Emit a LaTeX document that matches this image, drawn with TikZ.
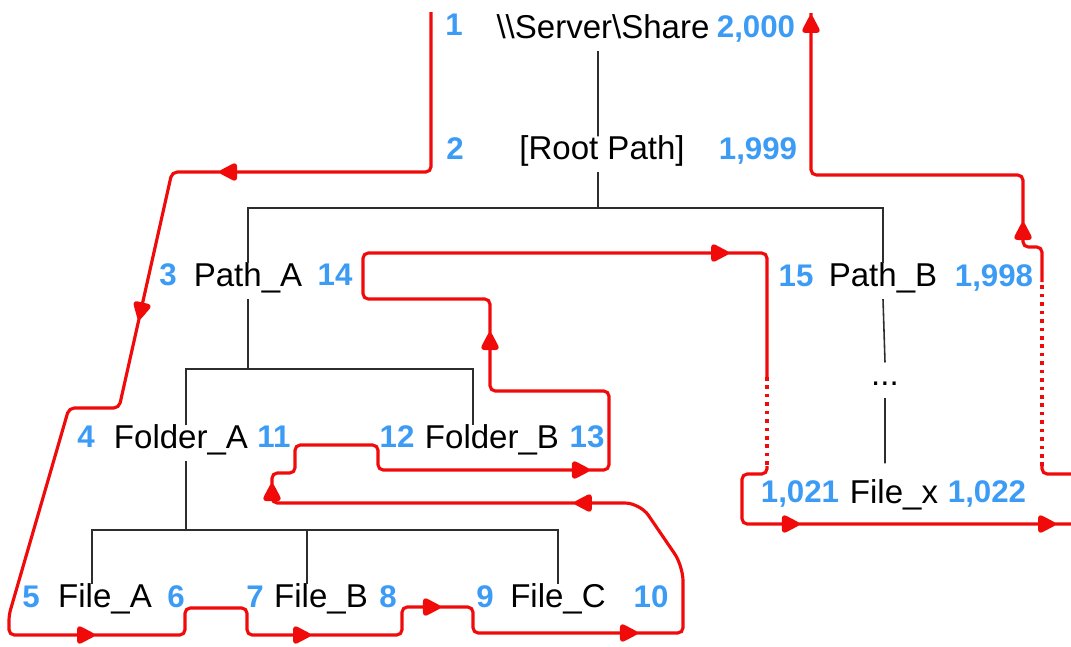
\documentclass[tikz,border=0pt]{standalone}
\usepackage{fontspec}
\setmainfont{Liberation Sans}
\usetikzlibrary{shapes.geometric,arrows.meta}
\definecolor{walkred}{RGB}{240,10,10}
\definecolor{countblue}{RGB}{60,155,245}
\definecolor{treegray}{RGB}{45,45,45}

\begin{document}
\begin{tikzpicture}[x=0.02cm, y=-0.02cm,
		item/.style={font=\fontsize{18.8}{22}\selectfont, text height=0.75em, text depth=0.22em, inner xsep=0pt, inner ysep=0.18cm, anchor=base},
		count/.style={item, font=\fontsize{17.8}{21}\selectfont\bfseries, text=countblue},
		tree/.style={draw=treegray, line width=0.9pt},
		route/.style={draw=walkred, line width=1.8pt, rounded corners=3pt},
		gap/.style={draw=walkred, line width=1.8pt, dash pattern=on 2pt off 2.8pt},
		tip/.style={sloped, allow upside down, anchor=apex, isosceles triangle, isosceles triangle stretches, minimum width=0.42cm, minimum height=0.4cm, inner sep=0pt, outer sep=0pt, fill=walkred}]
		\clip (0,0) rectangle (1071,646);
		\node[item] (srv) at (603,38) {\textbackslash\textbackslash Server\textbackslash Share};
		\node[item] (root) at (602,159) {[Root Path]};
		\node[item] (pathA) at (248,286) {Path\_A};
		\node[item] (pathB) at (883,286) {Path\_B};
		\node[item] (folderA) at (181,448) {Folder\_A};
		\node[item] (folderB) at (492,448) {Folder\_B};
		\node[item] (fileA) at (105,607) {File\_A};
		\node[item] (fileB) at (321,607) {File\_B};
		\node[item] (fileC) at (558,607) {File\_C};
		\node[item] (dots) at (885,385) {...};
		\node[item] (fileX) at (894,503) {File\_x};

		\node[count] (c1) at (454,35) {1};
		\node[count] (c2000) at (756,37) {2,000};
		\node[count] (c2) at (455,159) {2};
		\node[count] (c1999) at (758,159) {1,999};
		\node[count] (c3) at (168,285) {3};
		\node[count] (c14) at (335,285) {14};
		\node[count] (c15) at (796,286) {15};
		\node[count] (c1998) at (994,286) {1,998};
		\node[count] (c4) at (86,447) {4};
		\node[count] (c11) at (274,447) {11};
		\node[count] (c12) at (397,447) {12};
		\node[count] (c13) at (587,447) {13};
		\node[count] (c5) at (31,607) {5};
		\node[count] (c6) at (176,607) {6};
		\node[count] (c7) at (255,607) {7};
		\node[count] (c8) at (388,607) {8};
		\node[count] (c9) at (485,607) {9};
		\node[count] (c10) at (651,607) {10};
		\node[count] (c1021) at (800,502) {1,021};
		\node[count] (c1022) at (987,502) {1,022};

		\draw[tree] ([xshift=-0.1cm]srv.south) -- ([xshift=-0.08cm]root.north);
		\draw[tree] ([xshift=-0.08cm]root.south) -- ++(0,36) coordinate (rootbar);
		\draw[tree] (pathA.north) |- (rootbar) -| (pathB.north);
		\draw[tree] (pathA.south) -- ++(0,70) coordinate (pathAbar);
		\draw[tree] ([xshift=0.1cm]folderA.north) |- (pathAbar) -| ([xshift=-0.38cm]folderB.north);
		\draw[tree] ([xshift=0.1cm]folderA.south) -- ++(0,69) coordinate (folderAbar);
		\draw[tree] ([xshift=-0.26cm]fileA.north) |- (folderAbar) -| (fileC.north);
		\draw[tree] ([xshift=-0.28cm]fileB.north) -- ([xshift=-0.28cm]fileB.north |- folderAbar);
		\draw[tree] (pathB.south) -- (dots.north);
		\draw[tree, shorten >=0.34cm] (dots.south) -- ([xshift=-0.18cm]fileX.north);

		\draw[route] (431,12) -- (431,172)
			-- node[tip, pos=0.826]{} (172,172)
			-- node[tip, pos=0.636]{} (119,408) -- (69,408) -- (9,615) -- (9,635)
			-- node[tip, pos=0.5]{} (185,635) -- (185,608) -- (247,608) -- (247,635)
			-- node[tip, pos=0.426]{} (402,635) -- (402,607)
			-- node[tip, pos=0.577]{} (473,607) -- (473,633)
			-- node[tip, pos=0.795]{} (683,633)
			[rounded corners=0.3cm] -- (683,566) -- (640,503) [rounded corners=3pt]
			-- node[tip, pos=0.185]{} (272,503)
			-- node[tip, pos=0.73]{} (272,473) -- (295,473) -- (295,445) -- (378,445) -- (378,470)
			-- node[tip, pos=0.926]{} (609,470) -- (609,391) -- (490,391)
			-- node[tip, pos=0.663]{} (490,299) -- (363,299) -- (363,253)
			-- node[tip, pos=0.911]{} (767,253) -- (767,377);
		\draw[gap] (767,377) -- (767,466);
		\draw[route] (767,466) -- (767,474) -- (742,474) -- (742,524)
			-- node[tip, pos=0.172]{} node[tip, pos=0.908]{} (1090,524) -- (1090,474) -- (1042,474) -- (1042,466);
		\draw[gap] (1042,466) -- (1042,282);
		\draw[route] (1042,282) -- (1042,247) -- (1023,247)
			-- node[tip, pos=0.375]{} (1023,175) -- (811,175)
			-- node[tip, pos=1]{} (811,13);
\end{tikzpicture}
\end{document}
